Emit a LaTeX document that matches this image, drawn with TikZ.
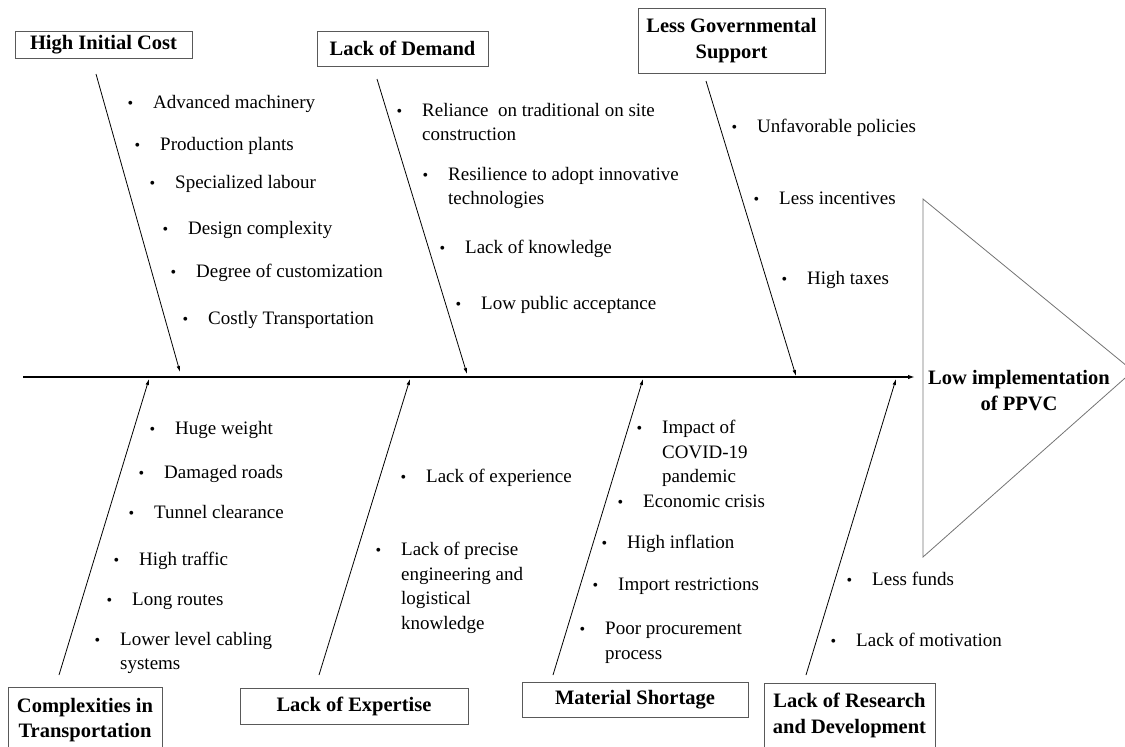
\documentclass[tikz,border=0pt]{standalone}
\usepackage{fontspec}
\setmainfont{Liberation Serif}
\usetikzlibrary{arrows.meta, positioning, calc}

\newcommand{\bul}{\llap{{\fontsize{16}{16}\selectfont\textbullet}\hspace{20pt}}}

\begin{document}
\begin{tikzpicture}[
    x=1pt, y=-1pt,
    cause/.style={rectangle, draw=black!65, line width=0.9pt, align=center, inner sep=0pt, font=\fontsize{20.5}{25.5}\selectfont\bfseries},
    item/.style={anchor=north west, align=left, inner sep=0pt, font=\fontsize{19}{24.5}\selectfont},
    bone/.style={-{Latex[length=6pt, width=3.5pt]}, line width=0.8pt},
    spine/.style={-{Latex[length=7pt, width=4.5pt]}, line width=1.6pt},
    effect/.style={align=center, inner sep=0pt, font=\fontsize{20.5}{26}\selectfont\bfseries},
    head_edge/.style={draw=black!55, line width=0.8pt}
]
    \useasboundingbox (0,0) rectangle (1125,747);

    % Effect (head of the fish)
    \coordinate (tri_top) at (923,199);
    \coordinate (tri_tip) at (1133,371);
    \coordinate (tri_bot) at (923,557);
    \draw[head_edge] (tri_top) -- (tri_tip) -- (tri_bot) -- cycle;
    \node[effect] (head) at (1019,391) {Low implementation\\of PPVC};

    % Spine
    \coordinate (spine_l) at (23,377);
    \coordinate (spine_r) at (915,377);
    \draw[spine] (spine_l) -- (spine_r);

    % Cause boxes, top row
    \node[cause, minimum width=177, minimum height=27] (cost) at (103.5,44.5) {High Initial Cost};
    \node[cause, minimum width=171, minimum height=35] (demand) at (402.5,48.5) {Lack of Demand};
    \node[cause, minimum width=187, minimum height=65] (support) at (731.5,40.5) {Less Governmental\\Support};

    % Cause boxes, bottom row
    \node[cause, minimum width=154, minimum height=66] (transport) at (85,720) {Complexities in\\Transportation};
    \node[cause, minimum width=228, minimum height=36] (expertise) at (354,706) {Lack of Expertise};
    \node[cause, minimum width=226, minimum height=35] (material) at (635,699.5) {Material Shortage};
    \node[cause, minimum width=171, minimum height=65] (research) at (849.5,715.5) {Lack of Research\\and Development};

    % Bones
    \coordinate (cost_a) at (96,74);        \coordinate (cost_b) at (180,372);
    \coordinate (demand_a) at (377,79);     \coordinate (demand_b) at (467,374);
    \coordinate (support_a) at (706,81);    \coordinate (support_b) at (796,376);
    \coordinate (transport_a) at (59,675);  \coordinate (transport_b) at (149,379);
    \coordinate (expertise_a) at (319,675); \coordinate (expertise_b) at (410,379);
    \coordinate (material_a) at (553,675);  \coordinate (material_b) at (643,379);
    \coordinate (research_a) at (806,675);  \coordinate (research_b) at (896,379);
    \draw[bone] (cost_a) -- (cost_b);
    \draw[bone] (demand_a) -- (demand_b);
    \draw[bone] (support_a) -- (support_b);
    \draw[bone] (transport_a) -- (transport_b);
    \draw[bone] (expertise_a) -- (expertise_b);
    \draw[bone] (material_a) -- (material_b);
    \draw[bone] (research_a) -- (research_b);

    % High Initial Cost
    \node[item] (cost1) at (153,95) {\bul Advanced machinery};
    \node[item] (cost2) at (160,137) {\bul Production plants};
    \node[item] (cost3) at (175,175) {\bul Specialized labour};
    \node[item] (cost4) at (188,221) {\bul Design complexity};
    \node[item] (cost5) at (196,264) {\bul Degree of customization};
    \node[item] (cost6) at (208,311) {\bul Costly Transportation};

    % Lack of Demand
    \node[item] (demand1) at (422,103) {\bul Reliance \ on traditional on site\\construction};
    \node[item] (demand2) at (448,167) {\bul Resilience to adopt innovative\\technologies};
    \node[item] (demand3) at (465,240) {\bul Lack of knowledge};
    \node[item] (demand4) at (481,296) {\bul Low public acceptance};

    % Less Governmental Support
    \node[item] (support1) at (757,119) {\bul Unfavorable policies};
    \node[item] (support2) at (779,192) {\bul Less incentives};
    \node[item] (support3) at (807,271) {\bul High taxes};

    % Complexities in Transportation
    \node[item] (transport1) at (175,421) {\bul Huge weight};
    \node[item] (transport2) at (164,465) {\bul Damaged roads};
    \node[item] (transport3) at (154,505) {\bul Tunnel clearance};
    \node[item] (transport4) at (139,552) {\bul High traffic};
    \node[item] (transport5) at (132,593) {\bul Long routes};
    \node[item] (transport6) at (120,632) {\bul Lower level cabling\\systems};

    % Lack of Expertise
    \node[item] (expertise1) at (426,469) {\bul Lack of experience};
    \node[item] (expertise2) at (401,542) {\bul Lack of precise\\engineering and\\logistical\\knowledge};

    % Material Shortage
    \node[item] (material1) at (662,420) {\bul Impact of\\COVID-19\\pandemic};
    \node[item] (material2) at (643,495) {\bul Economic crisis};
    \node[item] (material3) at (627,535) {\bul High inflation};
    \node[item] (material4) at (618,578) {\bul Import restrictions};
    \node[item] (material5) at (605,622) {\bul Poor procurement\\process};

    % Lack of Research and Development
    \node[item] (research1) at (872,572) {\bul Less funds};
    \node[item] (research2) at (856,633) {\bul Lack of motivation};

\end{tikzpicture}
\end{document}
